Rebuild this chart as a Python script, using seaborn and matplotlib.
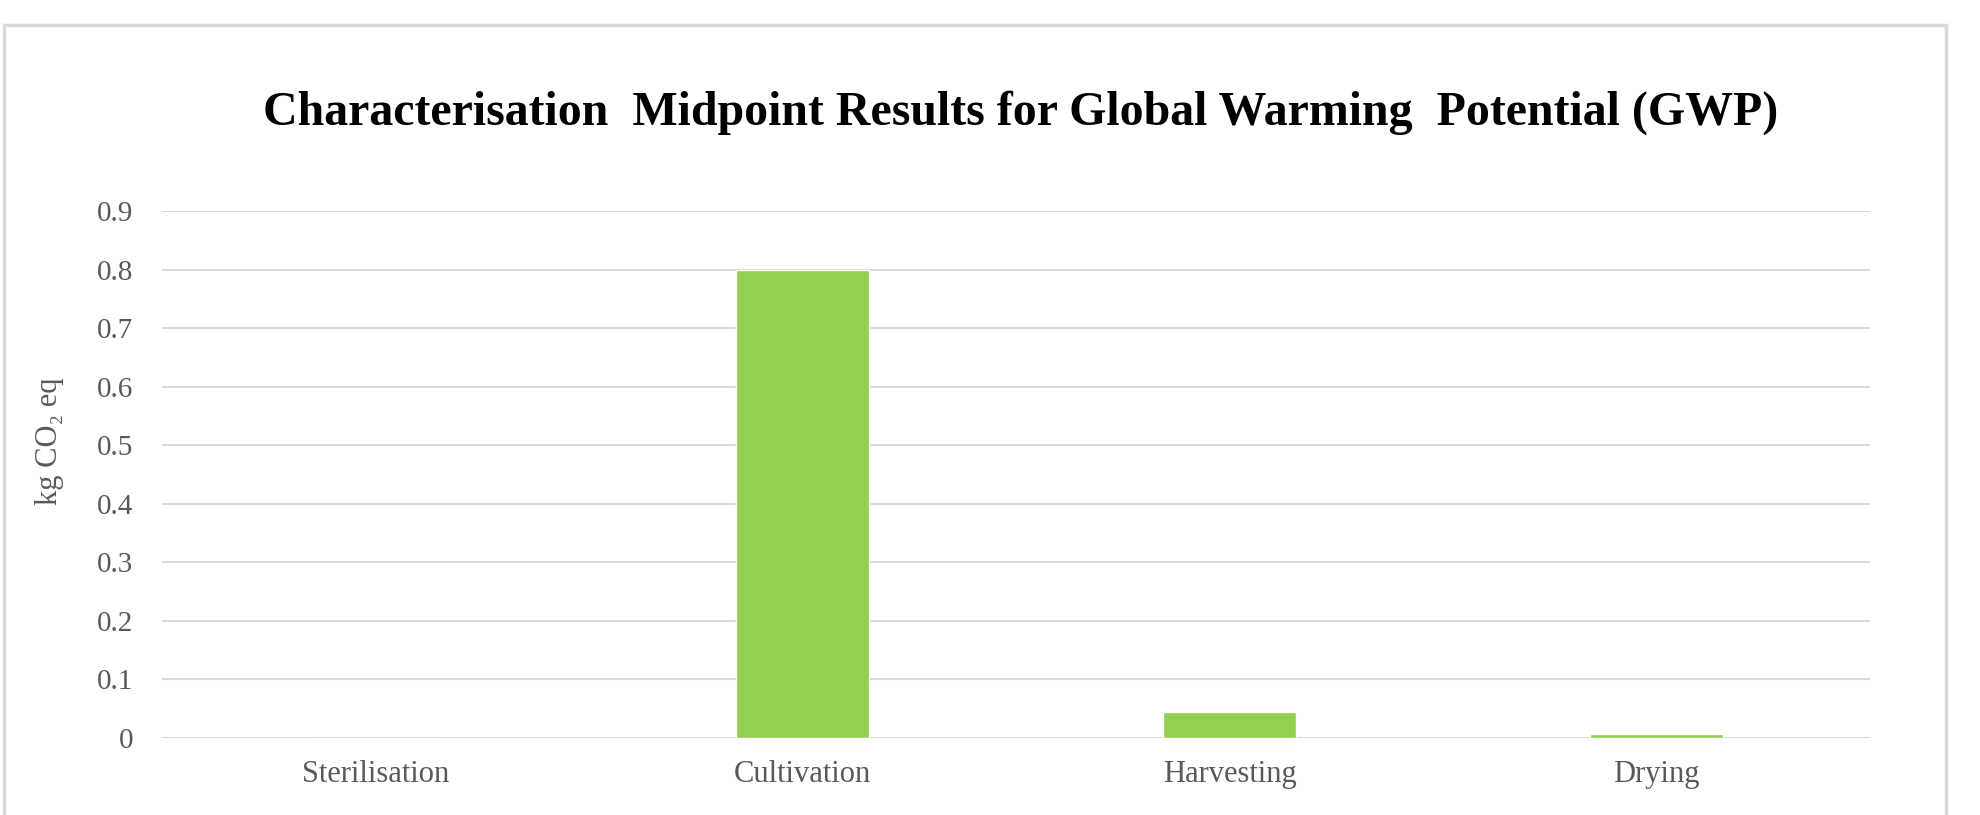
import seaborn as sns
import pandas as pd
import matplotlib.pyplot as plt
from matplotlib.patches import Rectangle

stages = ["Sterilisation", "Cultivation", "Harvesting", "Drying"]
gwp = [0.0, 0.80, 0.044, 0.007]
y_ticks = [0, 0.1, 0.2, 0.3, 0.4, 0.5, 0.6, 0.7, 0.8, 0.9]
y_tick_labels = ["0", "0.1", "0.2", "0.3", "0.4", "0.5", "0.6", "0.7", "0.8", "0.9"]

df = pd.DataFrame({"stage": stages, "gwp": gwp})

sns.set_theme(style="white")
plt.rcParams["font.family"] = ["Liberation Serif", "DejaVu Serif"]

fig = plt.figure(figsize=(19.81, 8.15), dpi=100)
ax = fig.add_axes([0.0818, 0.0945, 0.8622, 0.6466])

for y in y_ticks:
    ax.axhline(y, color="#d9d9d9", lw=1.5, zorder=0)

sns.barplot(data=df, x="stage", y="gwp", color="#92d050", width=0.31,
            saturation=1, ax=ax, zorder=2)

ax.set_ylim(0, 0.9)
ax.set_xlim(-0.5, 3.5)
ax.set_yticks(y_ticks)
ax.set_yticklabels(y_tick_labels)
ax.tick_params(axis="y", length=0, labelsize=21, labelcolor="#595959", pad=21)
ax.tick_params(axis="x", length=0, labelsize=22, labelcolor="#595959", pad=16)
sns.despine(ax=ax, left=True, bottom=True)
ax.set_xlabel("")
ax.set_ylabel("kg CO\u2082 eq", fontsize=22, color="#595959", va="center")
ax.yaxis.set_label_coords(-0.066, 0.564)

fig.text(0.515, 0.862, "Characterisation  Midpoint Results for Global Warming  Potential (GWP)",
         ha="center", va="center", fontsize=34.5, fontweight="bold", color="black")

fig.patches.append(Rectangle((4 / 1981, -0.05), (1946 - 4) / 1981, 0.05 + 1 - 25 / 815,
                             transform=fig.transFigure, fill=False,
                             edgecolor="#d9d9d9", lw=2.5, zorder=-1))

fig.savefig("out.png", dpi=100)
